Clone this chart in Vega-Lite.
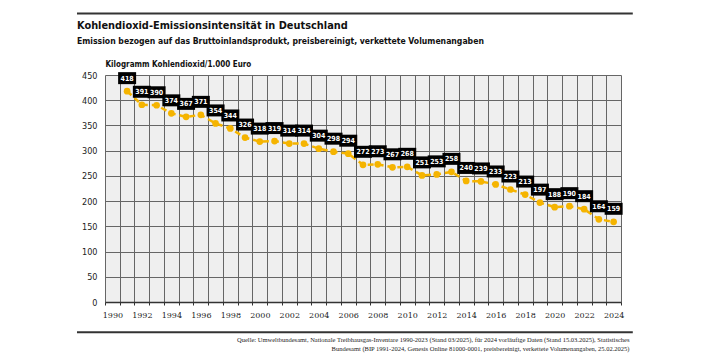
{
  "$schema": "https://vega.github.io/schema/vega-lite/v6.json",
  "autosize": {"type": "none"},
  "padding": {"left": 105, "top": 75, "right": 86, "bottom": 52},
  "width": 516,
  "height": 227,
  "background": "white",
  "view": {"fill": "#efefef", "stroke": null},
  "title": {
    "text": "Kohlendioxid-Emissionsintensität in Deutschland",
    "subtitle": "Emission bezogen auf das Bruttoinlandsprodukt, preisbereinigt, verkettete Volumenangaben",
    "anchor": "start",
    "frame": "group",
    "dx": -28,
    "offset": -33,
    "font": "DejaVu Sans Condensed, sans-serif",
    "fontSize": 10.9,
    "fontWeight": "bold",
    "color": "#111",
    "subtitleFont": "DejaVu Sans Condensed, sans-serif",
    "subtitleFontSize": 8.6,
    "subtitleFontWeight": "bold",
    "subtitleColor": "#111",
    "subtitlePadding": 6
  },
  "data": {
    "values": [
      {"Jahr": 1991, "Wert": 418},
      {"Jahr": 1992, "Wert": 391},
      {"Jahr": 1993, "Wert": 390},
      {"Jahr": 1994, "Wert": 374},
      {"Jahr": 1995, "Wert": 367},
      {"Jahr": 1996, "Wert": 371},
      {"Jahr": 1997, "Wert": 354},
      {"Jahr": 1998, "Wert": 344},
      {"Jahr": 1999, "Wert": 326},
      {"Jahr": 2000, "Wert": 318},
      {"Jahr": 2001, "Wert": 319},
      {"Jahr": 2002, "Wert": 314},
      {"Jahr": 2003, "Wert": 314},
      {"Jahr": 2004, "Wert": 304},
      {"Jahr": 2005, "Wert": 298},
      {"Jahr": 2006, "Wert": 294},
      {"Jahr": 2007, "Wert": 272},
      {"Jahr": 2008, "Wert": 273},
      {"Jahr": 2009, "Wert": 267},
      {"Jahr": 2010, "Wert": 268},
      {"Jahr": 2011, "Wert": 251},
      {"Jahr": 2012, "Wert": 253},
      {"Jahr": 2013, "Wert": 258},
      {"Jahr": 2014, "Wert": 240},
      {"Jahr": 2015, "Wert": 239},
      {"Jahr": 2016, "Wert": 233},
      {"Jahr": 2017, "Wert": 223},
      {"Jahr": 2018, "Wert": 213},
      {"Jahr": 2019, "Wert": 197},
      {"Jahr": 2020, "Wert": 188},
      {"Jahr": 2021, "Wert": 190},
      {"Jahr": 2022, "Wert": 184},
      {"Jahr": 2023, "Wert": 164},
      {"Jahr": 2024, "Wert": 159}
    ]
  },
  "encoding": {
    "x": {
      "field": "Jahr",
      "type": "quantitative",
      "scale": {"domain": [1989.5, 2024.5], "nice": false, "zero": false},
      "axis": {
        "values": [1989.5, 1990.5, 1991.5, 1992.5, 1993.5, 1994.5, 1995.5, 1996.5, 1997.5, 1998.5, 1999.5, 2000.5, 2001.5, 2002.5, 2003.5, 2004.5, 2005.5, 2006.5, 2007.5, 2008.5, 2009.5, 2010.5, 2011.5, 2012.5, 2013.5, 2014.5, 2015.5, 2016.5, 2017.5, 2018.5, 2019.5, 2020.5, 2021.5, 2022.5, 2023.5, 2024.5],
        "labelExpr": "(datum.value + 0.5) % 2 == 0 ? '' + (datum.value + 0.5) : ''",
        "labelOffset": 7.37,
        "labelOverlap": false,
        "labelFlush": false,
        "labelPadding": 6,
        "labelFont": "DejaVu Serif, serif",
        "labelFontSize": 8,
        "labelColor": "#222",
        "grid": true,
        "gridColor": "#666",
        "gridWidth": 1,
        "ticks": true,
        "tickSize": 3,
        "tickColor": "#333",
        "domain": true,
        "domainColor": "#333",
        "domainWidth": 1.5,
        "title": [
          "Quelle: Umweltbundesamt, Nationale Treibhausgas-Inventare 1990-2023 (Stand 03/2025), für 2024 vorläufige Daten (Stand 15.03.2025), Statistisches",
          "Bundesamt (BIP 1991-2024, Genesis Online 81000-0001, preisbereinigt, verkettete Volumenangaben, 25.02.2025)"
        ],
        "titleFont": "Liberation Serif, serif",
        "titleFontSize": 6.5,
        "titleFontWeight": "normal",
        "titleColor": "#222",
        "titleAlign": "right",
        "titleAnchor": "end",
        "titleBaseline": "alphabetic",
        "titleLineHeight": 9.5,
        "titleX": 524,
        "titleY": 39
      }
    },
    "y": {
      "field": "Wert",
      "type": "quantitative",
      "scale": {"domain": [0, 450], "nice": false},
      "axis": {
        "values": [0, 50, 100, 150, 200, 250, 300, 350, 400, 450],
        "grid": true,
        "gridColor": "#666",
        "gridWidth": 1,
        "ticks": false,
        "domain": false,
        "labelPadding": 8,
        "labelFont": "DejaVu Sans Condensed, sans-serif",
        "labelFontSize": 9,
        "labelColor": "#222",
        "title": "Kilogramm Kohlendioxid/1.000 Euro",
        "titleAngle": 0,
        "titleAlign": "left",
        "titleBaseline": "alphabetic",
        "titleX": 0,
        "titleY": -9,
        "titleFont": "DejaVu Sans Condensed, sans-serif",
        "titleFontSize": 8,
        "titleFontWeight": "bold",
        "titleColor": "#111"
      }
    }
  },
  "layer": [
    {
      "mark": {"type": "line", "color": "#F5B400", "strokeWidth": 2.5, "strokeDash": [6, 4]}
    },
    {
      "mark": {"type": "point", "shape": "circle", "filled": true, "opacity": 1, "color": "#F5B400", "size": 45}
    },
    {
      "mark": {"type": "point", "shape": "M-1.5,-1H1.5V1H-1.5Z", "filled": true, "opacity": 1, "color": "#000", "size": 144, "yOffset": -13}
    },
    {
      "mark": {"type": "text", "color": "white", "fontWeight": "bold", "fontSize": 7, "font": "DejaVu Sans Condensed, sans-serif", "baseline": "middle", "align": "center", "yOffset": -12.5},
      "encoding": {"text": {"field": "Wert", "type": "quantitative"}}
    },
    {
      "transform": [{"filter": "datum.Jahr == 1991"}],
      "mark": {"type": "rule", "color": "#333", "strokeWidth": 2},
      "encoding": {
        "x": {"datum": 1987.6, "type": "quantitative"},
        "x2": {"datum": 2025.3},
        "y": {"datum": 572, "type": "quantitative"}
      }
    },
    {
      "transform": [{"filter": "datum.Jahr == 1991"}],
      "mark": {"type": "rule", "color": "#333", "strokeWidth": 2},
      "encoding": {
        "x": {"datum": 1987.6, "type": "quantitative"},
        "x2": {"datum": 2025.3},
        "y": {"datum": -60, "type": "quantitative"}
      }
    }
  ]
}
